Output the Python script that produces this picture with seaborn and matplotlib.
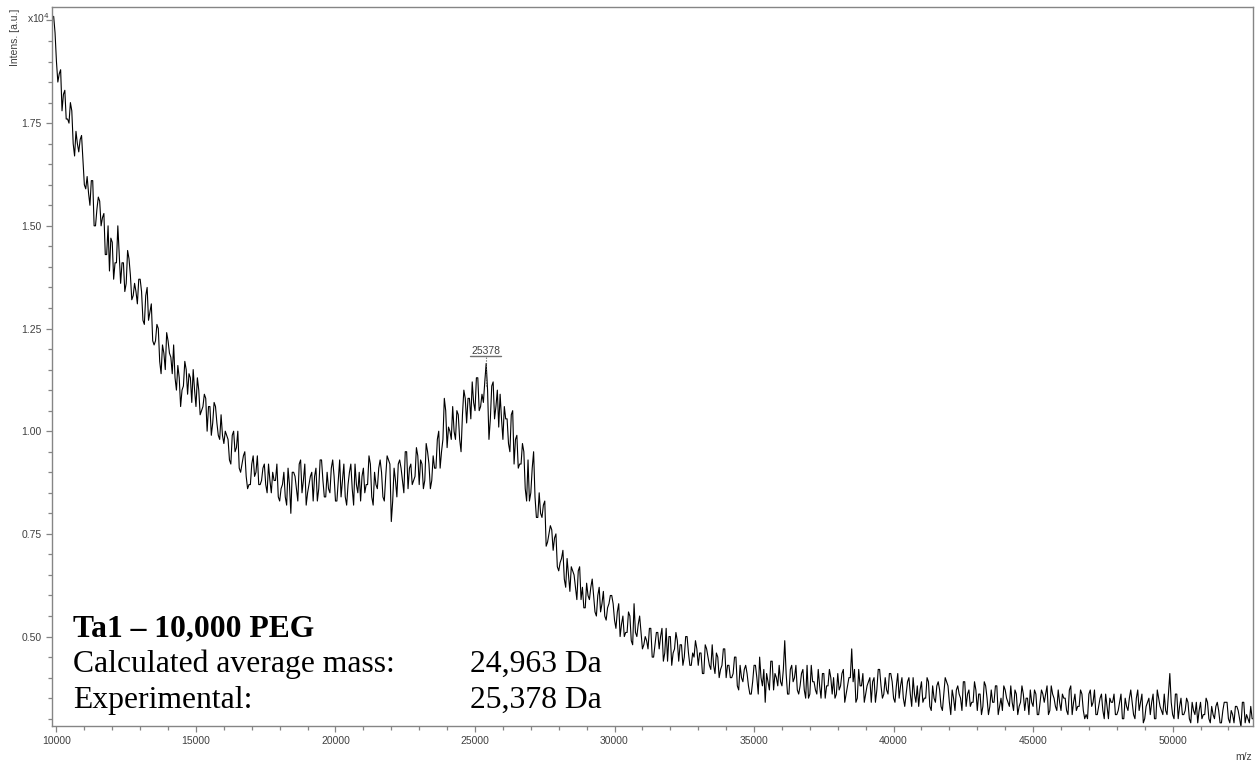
import numpy as np
import pandas as pd
import matplotlib
matplotlib.use("Agg")
import matplotlib.pyplot as plt
import seaborn as sns
from matplotlib.ticker import MultipleLocator, FixedLocator, FixedFormatter
from matplotlib.transforms import ScaledTranslation

# ---------------- data (intensity in units of 1e4 a.u.) ----------------
# readings at 9900, 10000, ..., 52900 Da
mz_start = 9900
mz_step = 100
intensity = [
    2.01, 1.90, 1.87, 1.78, 1.83, 1.76, 1.80, 1.70, 1.73, 1.68,   # 9900-10800
    1.72, 1.60, 1.62, 1.55, 1.61, 1.50, 1.57, 1.50, 1.53, 1.43,   # 10900-11800
    1.39, 1.46, 1.41, 1.50, 1.36, 1.41, 1.36, 1.42, 1.32, 1.36,   # 11900-12800
    1.31, 1.37, 1.27, 1.33, 1.27, 1.31, 1.21, 1.26, 1.17, 1.21,   # 12900-13800
    1.15, 1.22, 1.18, 1.21, 1.10, 1.13, 1.10, 1.17, 1.09, 1.13,   # 13900-14800
    1.15, 1.06, 1.10, 1.05, 1.09, 1.00, 1.06, 1.02, 1.06, 0.99,   # 14900-15800
    1.04, 0.97, 0.99, 0.93, 0.99, 0.95, 1.00, 0.90, 0.94, 0.89,   # 15900-16800
    0.87, 0.92, 0.89, 0.94, 0.87, 0.91, 0.87, 0.92, 0.85, 0.88,   # 16900-17800
    0.92, 0.83, 0.87, 0.84, 0.91, 0.80, 0.90, 0.86, 0.92, 0.85,   # 17900-18800
    0.92, 0.85, 0.89, 0.83, 0.91, 0.86, 0.93, 0.84, 0.90, 0.85,   # 18900-19800
    0.93, 0.83, 0.88, 0.84, 0.92, 0.82, 0.90, 0.86, 0.92, 0.85,   # 19900-20800
    0.83, 0.91, 0.87, 0.94, 0.84, 0.90, 0.86, 0.93, 0.84, 0.89,   # 20900-21800
    0.93, 0.78, 0.91, 0.84, 0.93, 0.88, 0.95, 0.86, 0.92, 0.88,   # 21900-22800
    0.96, 0.87, 0.92, 0.88, 0.95, 0.86, 0.94, 0.91, 1.00, 0.95,   # 22900-23800
    1.08, 0.96, 1.00, 1.06, 0.98, 1.04, 0.95, 1.10, 1.02, 1.08,   # 23900-24800
    1.12, 1.05, 1.13, 1.06, 1.07, 1.165, 0.98, 1.11, 1.03, 1.10,  # 24900-25800
    1.09, 0.98, 1.03, 0.97, 1.04, 0.92, 0.99, 0.92, 0.97, 0.86,   # 25900-26800
    0.93, 0.85, 0.95, 0.79, 0.85, 0.79, 0.83, 0.73, 0.77, 0.71,   # 26900-27800
    0.75, 0.66, 0.69, 0.64, 0.69, 0.61, 0.66, 0.62, 0.66, 0.59,   # 27900-28800
    0.57, 0.63, 0.59, 0.64, 0.56, 0.60, 0.56, 0.61, 0.54, 0.58,   # 28900-29800
    0.60, 0.54, 0.56, 0.50, 0.55, 0.51, 0.56, 0.49, 0.58, 0.50,   # 29900-30800
    0.55, 0.47, 0.50, 0.47, 0.52, 0.45, 0.51, 0.47, 0.52, 0.46,   # 30900-31800
    0.44, 0.50, 0.46, 0.51, 0.44, 0.48, 0.45, 0.50, 0.43, 0.46,   # 31900-32800
    0.49, 0.43, 0.46, 0.41, 0.47, 0.43, 0.48, 0.41, 0.45, 0.42,   # 32900-33800
    0.47, 0.40, 0.43, 0.40, 0.45, 0.38, 0.43, 0.39, 0.43, 0.38,   # 33900-34800
    0.36, 0.43, 0.40, 0.45, 0.38, 0.34, 0.39, 0.44, 0.37, 0.40,   # 34900-35800
    0.43, 0.38, 0.49, 0.36, 0.42, 0.39, 0.43, 0.36, 0.41, 0.37,   # 35900-36800
    0.43, 0.36, 0.39, 0.37, 0.42, 0.35, 0.41, 0.38, 0.42, 0.36,   # 36900-37800
    0.35, 0.41, 0.38, 0.42, 0.36, 0.40, 0.47, 0.42, 0.35, 0.38,   # 37900-38800
    0.41, 0.36, 0.39, 0.34, 0.40, 0.37, 0.42, 0.35, 0.40, 0.36,   # 38900-39800
    0.41, 0.35, 0.38, 0.35, 0.40, 0.33, 0.39, 0.36, 0.40, 0.34,   # 39900-40800
    0.33, 0.39, 0.35, 0.40, 0.33, 0.38, 0.34, 0.39, 0.33, 0.36,   # 40900-41800
    0.39, 0.34, 0.37, 0.32, 0.38, 0.35, 0.39, 0.33, 0.37, 0.34,   # 41900-42800
    0.39, 0.32, 0.36, 0.33, 0.38, 0.31, 0.37, 0.34, 0.38, 0.33,   # 42900-43800
    0.32, 0.37, 0.34, 0.38, 0.32, 0.36, 0.33, 0.38, 0.32, 0.35,   # 43900-44800
    0.37, 0.33, 0.36, 0.31, 0.37, 0.34, 0.38, 0.32, 0.36, 0.33,   # 44900-45800
    0.37, 0.32, 0.35, 0.32, 0.37, 0.31, 0.36, 0.33, 0.37, 0.32,   # 45900-46800
    0.31, 0.36, 0.33, 0.37, 0.31, 0.35, 0.32, 0.36, 0.30, 0.34,   # 46900-47800
    0.36, 0.31, 0.34, 0.30, 0.35, 0.32, 0.37, 0.31, 0.35, 0.32,   # 47900-48800
    0.36, 0.30, 0.34, 0.31, 0.36, 0.30, 0.35, 0.32, 0.36, 0.31,   # 48900-49800
    0.41, 0.31, 0.36, 0.30, 0.35, 0.31, 0.35, 0.30, 0.34, 0.31,   # 49900-50800
    0.29, 0.34, 0.31, 0.35, 0.30, 0.33, 0.30, 0.34, 0.29, 0.32,   # 50900-51800
    0.34, 0.30, 0.32, 0.29, 0.33, 0.30, 0.34, 0.29, 0.30, 0.33, 0.30,  # 51900-52900
]

# readings at the half steps 9950, 10050, ..., 52850 Da
mz_half_start = 9950
intensity_half = [
    1.97, 1.85, 1.88, 1.82, 1.76, 1.75, 1.78, 1.67, 1.70, 1.71,   # 9950-10850
    1.66, 1.59, 1.58, 1.61, 1.50, 1.54, 1.56, 1.52, 1.43, 1.50,   # 10950-11850
    1.47, 1.37, 1.41, 1.43, 1.41, 1.34, 1.44, 1.38, 1.33, 1.34,   # 11950-12850
    1.37, 1.34, 1.26, 1.35, 1.29, 1.22, 1.22, 1.25, 1.14, 1.19,   # 12950-13850
    1.24, 1.19, 1.14, 1.13, 1.16, 1.06, 1.11, 1.15, 1.14, 1.07,   # 13950-14850
    1.10, 1.13, 1.04, 1.06, 1.08, 1.06, 0.99, 1.07, 1.02, 0.98,   # 14950-15850
    0.99, 1.00, 0.98, 0.92, 1.00, 0.96, 0.91, 0.92, 0.95, 0.86,   # 15950-16850
    0.87, 0.94, 0.90, 0.87, 0.88, 0.92, 0.85, 0.88, 0.90, 0.88,   # 16950-17850
    0.84, 0.86, 0.90, 0.82, 0.87, 0.90, 0.89, 0.83, 0.93, 0.88,   # 17950-18850
    0.82, 0.87, 0.90, 0.89, 0.83, 0.93, 0.88, 0.84, 0.86, 0.91,   # 18950-19850
    0.89, 0.83, 0.93, 0.88, 0.84, 0.87, 0.92, 0.82, 0.87, 0.90,   # 19950-20850
    0.89, 0.85, 0.87, 0.92, 0.82, 0.87, 0.91, 0.90, 0.83, 0.94,   # 20950-21850
    0.92, 0.83, 0.88, 0.92, 0.91, 0.85, 0.95, 0.91, 0.87, 0.89,   # 21950-22850
    0.94, 0.93, 0.86, 0.97, 0.92, 0.88, 0.91, 0.98, 0.91, 0.98,   # 22950-23850
    1.05, 1.01, 0.98, 1.00, 1.05, 0.98, 1.04, 1.08, 1.08, 1.03,   # 23950-24850
    1.07, 1.13, 1.05, 1.09, 1.12, 1.10, 1.03, 1.12, 1.06, 1.01,   # 24950-25850
    1.03, 1.06, 1.03, 0.95, 1.05, 0.98, 0.91, 0.92, 0.95, 0.83,   # 25950-26850
    0.83, 0.91, 0.84, 0.79, 0.80, 0.82, 0.72, 0.75, 0.76, 0.74,   # 26950-27850
    0.67, 0.68, 0.71, 0.62, 0.65, 0.67, 0.65, 0.59, 0.67, 0.62,   # 27950-28850
    0.57, 0.60, 0.62, 0.60, 0.55, 0.62, 0.58, 0.55, 0.57, 0.60,   # 28950-29850
    0.58, 0.52, 0.58, 0.53, 0.50, 0.51, 0.55, 0.48, 0.51, 0.53,   # 29950-30850
    0.51, 0.48, 0.49, 0.52, 0.45, 0.48, 0.51, 0.50, 0.44, 0.52,   # 30950-31850
    0.50, 0.43, 0.47, 0.49, 0.48, 0.43, 0.50, 0.46, 0.43, 0.45,   # 31950-32850
    0.47, 0.46, 0.41, 0.48, 0.45, 0.42, 0.43, 0.46, 0.40, 0.43,   # 32950-33850
    0.47, 0.43, 0.40, 0.41, 0.45, 0.37, 0.40, 0.42, 0.41, 0.36,   # 33950-34850
    0.39, 0.43, 0.36, 0.40, 0.42, 0.41, 0.37, 0.44, 0.41, 0.38,   # 34950-35850
    0.39, 0.42, 0.41, 0.36, 0.43, 0.40, 0.37, 0.38, 0.42, 0.35,   # 35950-36850
    0.35, 0.43, 0.39, 0.36, 0.38, 0.41, 0.35, 0.38, 0.40, 0.40,   # 36950-37850
    0.36, 0.37, 0.41, 0.34, 0.38, 0.40, 0.39, 0.34, 0.42, 0.38,   # 37950-38850
    0.34, 0.38, 0.40, 0.39, 0.34, 0.42, 0.38, 0.36, 0.37, 0.41,   # 38950-39850
    0.39, 0.34, 0.41, 0.38, 0.35, 0.36, 0.40, 0.33, 0.36, 0.38,   # 39950-40850
    0.37, 0.34, 0.35, 0.39, 0.32, 0.35, 0.38, 0.37, 0.32, 0.40,   # 40950-41850
    0.38, 0.31, 0.35, 0.37, 0.36, 0.32, 0.39, 0.36, 0.33, 0.34,   # 41950-42850
    0.37, 0.36, 0.31, 0.39, 0.35, 0.33, 0.34, 0.38, 0.31, 0.35,   # 42950-43850
    0.38, 0.35, 0.33, 0.34, 0.37, 0.31, 0.34, 0.36, 0.35, 0.31,   # 43950-44850
    0.34, 0.37, 0.31, 0.34, 0.36, 0.36, 0.31, 0.38, 0.35, 0.32,   # 44950-45850
    0.34, 0.36, 0.35, 0.31, 0.38, 0.34, 0.32, 0.33, 0.36, 0.30,   # 45950-46850
    0.30, 0.37, 0.34, 0.31, 0.33, 0.36, 0.30, 0.33, 0.35, 0.34,   # 46950-47850
    0.31, 0.32, 0.36, 0.30, 0.33, 0.35, 0.34, 0.30, 0.37, 0.34,   # 47950-48850
    0.29, 0.33, 0.35, 0.34, 0.30, 0.37, 0.33, 0.31, 0.32, 0.36,   # 48950-49850
    0.34, 0.30, 0.36, 0.33, 0.31, 0.32, 0.34, 0.29, 0.32, 0.34,   # 49950-50850
    0.32, 0.30, 0.31, 0.34, 0.29, 0.31, 0.33, 0.32, 0.29, 0.34,   # 50950-51850
    0.34, 0.29, 0.31, 0.33, 0.32, 0.28, 0.34, 0.31, 0.29, 0.30,   # 51950-52850
]

peak_mz = 25378
peak_label = "25378"

x_ticks = [10000, 15000, 20000, 25000, 30000, 35000, 40000, 45000, 50000]
y_ticks = [0.50, 0.75, 1.00, 1.25, 1.50, 1.75, 2.00]
y_tick_labels = ["0.50", "0.75", "1.00", "1.25", "1.50", "1.75", ""]

title_line = "Ta1 \u2013 10,000 PEG"
info_labels = ["Calculated average mass:", "Experimental:"]
info_values = ["24,963 Da", "25,378 Da"]

mz = mz_start + mz_step * np.arange(len(intensity))
mz_half = mz_half_start + mz_step * np.arange(len(intensity_half))
df = pd.DataFrame({"mz": np.concatenate([mz, mz_half]),
                   "intensity": np.concatenate([intensity, intensity_half])})
df = df.sort_values("mz").reset_index(drop=True)

# ---------------- figure ----------------
sns.set_theme(style="white")
plt.rcParams["font.family"] = ["Liberation Sans", "DejaVu Sans"]

W, H = 1258, 763
fig = plt.figure(figsize=(W / 100, H / 100), dpi=100)
ax = fig.add_axes([51.7 / W, 1 - 725.7 / H, (1252.7 - 51.7) / W, (725.7 - 7.3) / H])

sns.lineplot(data=df, x="mz", y="intensity", ax=ax, color="black",
             linewidth=0.8, estimator=None, sort=True)

ax.set_xlim(9830, 52870)
ax.set_ylim(0.283, 2.032)
ax.set_xlabel("")
ax.set_ylabel("")

ax.xaxis.set_major_locator(FixedLocator(x_ticks))
ax.xaxis.set_minor_locator(MultipleLocator(1000))
ax.yaxis.set_major_locator(FixedLocator(y_ticks))
ax.yaxis.set_major_formatter(FixedFormatter(y_tick_labels))
ax.yaxis.set_minor_locator(MultipleLocator(0.05))

spine_col = "#858585"
for s in ax.spines.values():
    s.set_color(spine_col)
    s.set_linewidth(1.0)

ax.tick_params(axis="both", which="major", direction="out", length=4.5, width=0.9,
               color=spine_col, labelsize=7.5, labelcolor="#404040", pad=3,
               bottom=True, left=True)
ax.tick_params(axis="both", which="minor", direction="out", length=3, width=0.9,
               color=spine_col, bottom=True, left=True)

# offset / axis labels
fig.text(50 / W, 1 - 23 / H, "x10$^4$", ha="right", va="baseline",
         fontsize=7.5, color="#404040")
fig.text(15 / W, 1 - 37 / H, "Intens. [a.u.]", rotation=90, ha="center",
         va="center", fontsize=7.5, color="#404040")
fig.text(1252 / W, 1 - 760 / H, "m/z", ha="right", va="baseline",
         fontsize=7.5, color="#404040")

# peak annotation
peak_int = df.loc[(df["mz"] - peak_mz).abs().idxmin(), "intensity"]
ax.vlines(peak_mz, peak_int - 0.055, peak_int + 0.016, colors="#555555",
          linestyles=(0, (1, 1.5)), linewidth=0.8)
up = ax.transData + ScaledTranslation(0, 5.2 / 72, fig.dpi_scale_trans)
ax.plot([peak_mz - 540, peak_mz + 540], [peak_int, peak_int], color="#707070",
        linewidth=1.0, transform=up)
ax.annotate(peak_label, xy=(peak_mz, peak_int), xytext=(0, 6.6),
            textcoords="offset points", ha="center", va="baseline",
            fontsize=7.5, color="#404040")

# text block
serif = ["Liberation Serif", "DejaVu Serif"]
fs = 22.8
fig.text(73 / W, 1 - 636 / H, title_line, family=serif, fontsize=fs,
         fontweight="bold", color="black", va="baseline")
for i, (lab, val) in enumerate(zip(info_labels, info_values)):
    yb = 1 - (671.7 + 36.3 * i) / H
    fig.text(73 / W, yb, lab, family=serif, fontsize=fs, color="black", va="baseline")
    fig.text(470 / W, yb, val, family=serif, fontsize=fs, color="black", va="baseline")

fig.savefig("out.png", dpi=100)
